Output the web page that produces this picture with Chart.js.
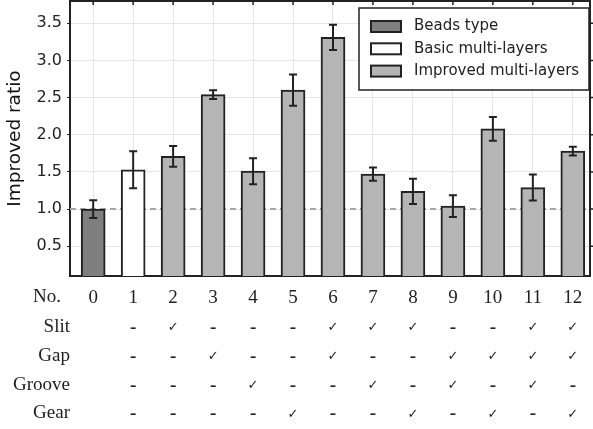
<!DOCTYPE html>
<html>
<head>
<meta charset="utf-8">
<script src="https://cdn.jsdelivr.net/npm/chart.js@4.4.0/dist/chart.umd.min.js"></script>
<style>
  html, body { margin: 0; padding: 0; background: #fff; }
  canvas { display: block; }
</style>
</head>
<body>
<canvas id="chart" width="593" height="429"></canvas>
<script>
// sample numbers (x categories) and measured ratios
const sampleNo = [0, 1, 2, 3, 4, 5, 6, 7, 8, 9, 10, 11, 12];
const ratios = [1.00, 1.53, 1.71, 2.54, 1.51, 2.60, 3.31, 1.47, 1.24, 1.04, 2.08, 1.29, 1.78];
const errors = [0.12, 0.25, 0.14, 0.06, 0.175, 0.21, 0.17, 0.09, 0.17, 0.145, 0.16, 0.175, 0.06];
// 0 = beads type, 1 = basic multi-layers, 2 = improved multi-layers
const groupOf = [0, 1, 2, 2, 2, 2, 2, 2, 2, 2, 2, 2, 2];
const groupNames = ['Beads type', 'Basic multi-layers', 'Improved multi-layers'];
const groupColors = ['#7f7f7f', '#ffffff', '#b5b5b5'];
const yTicks = [0.5, 1.0, 1.5, 2.0, 2.5, 3.0, 3.5];
const referenceRatio = 1.0;

// feature table under the chart (null = blank, false = '-', true = check)
const rowNames = ['Slit', 'Gap', 'Groove', 'Gear'];
const slit   = [null, false, true,  false, false, false, true,  true,  true,  false, false, true,  true];
const gap    = [null, false, false, true,  false, false, true,  false, false, true,  true,  true,  true];
const groove = [null, false, false, false, true,  false, false, true,  false, true,  false, true,  false];
const gear   = [null, false, false, false, false, true,  false, false, true,  false, true,  false, true];
const featureRows = [slit, gap, groove, gear];

const INK = '#222222';
const SERIF = '"Liberation Serif", "Times New Roman", serif';
const SANS = '"DejaVu Sans", sans-serif';

const extrasPlugin = {
    id: 'extras',

    /**
     * dashed reference line, drawn behind the bars
     */
    beforeDatasetsDraw(chart) {
        const {ctx, chartArea, scales: {y}} = chart;
        const py = y.getPixelForValue(referenceRatio);
        ctx.save();
        ctx.strokeStyle = '#a8a8a8';
        ctx.lineWidth = 2;
        ctx.setLineDash([6, 4]);
        ctx.beginPath();
        ctx.moveTo(chartArea.left, py);
        ctx.lineTo(chartArea.right, py);
        ctx.stroke();
        ctx.restore();
    },

    /**
     * error bars on top of the bars
     */
    afterDatasetsDraw(chart) {
        const {ctx, scales: {x, y}} = chart;
        ctx.save();
        ctx.strokeStyle = INK;
        ctx.lineWidth = 2;
        sampleNo.forEach((no, i) => {
            const px = x.getPixelForValue(no);
            const top = y.getPixelForValue(ratios[i] + errors[i]);
            const bot = y.getPixelForValue(ratios[i] - errors[i]);
            ctx.beginPath();
            ctx.moveTo(px, top);
            ctx.lineTo(px, bot);
            ctx.moveTo(px - 4, top);
            ctx.lineTo(px + 4, top);
            ctx.moveTo(px - 4, bot);
            ctx.lineTo(px + 4, bot);
            ctx.stroke();
        });
        ctx.restore();
    },

    afterDraw(chart) {
        const {ctx, chartArea, scales: {x, y}} = chart;
        ctx.save();

        // top and right frame with their small ticks
        ctx.strokeStyle = INK;
        ctx.lineWidth = 2;
        ctx.beginPath();
        ctx.moveTo(chartArea.left, chartArea.top);
        ctx.lineTo(chartArea.right, chartArea.top);
        ctx.lineTo(chartArea.right, chartArea.bottom);
        ctx.stroke();
        ctx.lineWidth = 1.5;
        ctx.beginPath();
        sampleNo.forEach(no => {
            const px = x.getPixelForValue(no);
            ctx.moveTo(px, chartArea.top);
            ctx.lineTo(px, chartArea.top + 4);
        });
        yTicks.forEach(v => {
            const py = y.getPixelForValue(v);
            ctx.moveTo(chartArea.right, py);
            ctx.lineTo(chartArea.right + 3, py);
        });
        ctx.stroke();

        // legend box
        const boxW = 230, boxH = 82;
        const boxL = chartArea.right - boxW - 1;
        const boxT = chartArea.top + 7;
        ctx.fillStyle = '#fff';
        ctx.fillRect(boxL, boxT, boxW, boxH);
        ctx.lineWidth = 1.5;
        ctx.strokeRect(boxL, boxT, boxW, boxH);
        ctx.font = '15px ' + SANS;
        ctx.textBaseline = 'middle';
        ctx.textAlign = 'left';
        groupNames.forEach((name, i) => {
            const cy = boxT + 18.5 + i * 22.3;
            ctx.fillStyle = groupColors[i];
            ctx.fillRect(boxL + 12, cy - 5.5, 30, 11);
            ctx.lineWidth = 2;
            ctx.strokeRect(boxL + 12, cy - 5.5, 30, 11);
            ctx.fillStyle = INK;
            ctx.fillText(name, boxL + 55, cy);
        });

        // feature table below the axis
        ctx.fillStyle = INK;
        ctx.textBaseline = 'middle';
        ctx.font = '19px ' + SERIF;
        ctx.textAlign = 'right';
        ctx.fillText('No.', chartArea.left - 9, chartArea.bottom + 21);
        rowNames.forEach((name, r) => {
            const cy = chartArea.bottom + 51 + r * 28.8;
            ctx.font = '19px ' + SERIF;
            ctx.textAlign = 'right';
            ctx.fillText(name, chartArea.left, cy);
            ctx.textAlign = 'center';
            featureRows[r].forEach((mark, i) => {
                if (mark === null) return;
                const px = x.getPixelForValue(sampleNo[i]);
                if (mark) {
                    ctx.font = 'bold 13px ' + SANS;
                    ctx.fillText('\u2713', px, cy + 1);
                } else {
                    ctx.font = 'bold 19px ' + SERIF;
                    ctx.fillText('-', px, cy + 1);
                }
            });
        });
        ctx.restore();
    }
};

new Chart(document.getElementById('chart'), {
    type: 'bar',
    data: {
        datasets: [{
            data: sampleNo.map((no, i) => ({x: no, y: ratios[i]})),
            backgroundColor: groupOf.map(g => groupColors[g]),
            borderColor: INK,
            borderWidth: 2,
            borderSkipped: 'start',
            barThickness: 24,
        }]
    },
    options: {
        responsive: false,
        devicePixelRatio: 1,
        animation: false,
        layout: {
            padding: {top: 1, right: 3, left: 0, bottom: 0},
        },
        plugins: {
            legend: {display: false},
            tooltip: {enabled: false},
        },
        scales: {
            x: {
                type: 'linear',
                offset: false,
                min: -0.58,
                max: 12.43,
                afterBuildTicks: scale => {
                    scale.ticks = sampleNo.map(v => ({value: v}));
                },
                afterFit: scale => {
                    scale.height = 153;
                    scale.paddingLeft = 0;
                    scale.paddingRight = 0;
                },
                grid: {
                    color: '#e6e6e6',
                    lineWidth: 1,
                    offset: false,
                    drawTicks: false,
                },
                border: {display: true, color: INK, width: 2},
                ticks: {
                    padding: 11,
                    color: INK,
                    font: {family: SERIF, size: 19},
                    maxRotation: 0,
                    callback: v => String(v),
                },
            },
            y: {
                min: 0.1,
                max: 3.8,
                afterBuildTicks: scale => {
                    scale.ticks = yTicks.map(v => ({value: v}));
                },
                afterFit: scale => {
                    scale.width = 70;
                    scale.paddingTop = 0;
                    scale.paddingBottom = 0;
                },
                grid: {
                    color: '#e6e6e6',
                    lineWidth: 1,
                    drawTicks: true,
                    tickLength: 3,
                    tickColor: INK,
                },
                border: {display: true, color: INK, width: 2},
                ticks: {
                    padding: 5,
                    color: INK,
                    font: {family: SANS, size: 16},
                    callback: v => v.toFixed(1),
                },
                title: {
                    display: true,
                    text: 'Improved ratio',
                    color: '#111',
                    font: {family: SANS, size: 18.5},
                    padding: {top: 4, bottom: 0},
                },
            },
        },
    },
    plugins: [extrasPlugin],
});
</script>
</body>
</html>
